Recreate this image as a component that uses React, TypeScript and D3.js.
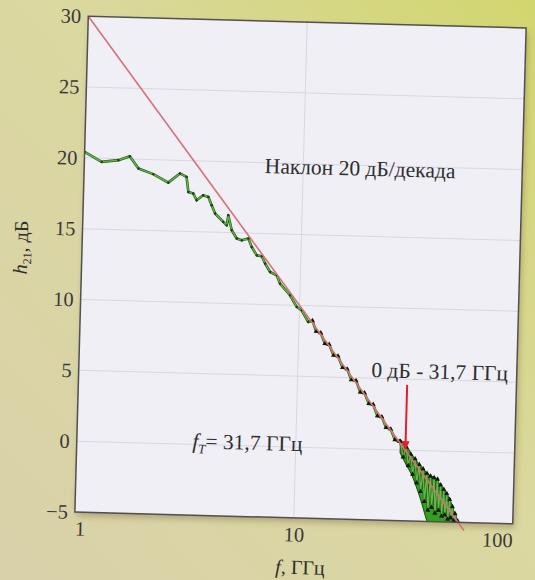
import React, { useRef, useEffect } from "react";
import * as d3 from "d3";

const lowFreq = [1.0, 1.2, 1.43, 1.61, 1.77, 2.07, 2.43, 2.74, 2.94, 3.01, 3.17, 3.29, 3.52, 3.72, 3.86, 4.01, 4.38, 4.55, 4.61, 4.8, 5.07, 5.35, 5.73, 5.95, 6.29, 6.63, 6.88, 7.27, 7.8, 8.09, 9.02, 9.71, 10.24, 11.0];
const lowDb = [20.42, 19.75, 19.9, 20.2, 19.35, 18.98, 18.41, 19.08, 18.85, 17.79, 17.69, 17.22, 17.59, 17.48, 16.9, 16.32, 15.75, 15.51, 16.23, 15.17, 14.6, 14.48, 14.62, 14.03, 13.45, 13.4, 12.89, 12.3, 12.08, 11.5, 10.7, 9.89, 9.66, 8.85];

const slopeFreq = [11.5, 12, 12.6, 13.2, 13.8, 14.5, 15.2, 16, 16.8, 17.6, 18.5, 19.4, 20.3, 21.3, 22.3, 23.4, 24.5, 25.7, 27, 28.3, 29.7];
const slopeDb = [8.95, 8.2, 8.1, 7.35, 7.3, 6.55, 6.5, 5.7, 5.6, 4.85, 4.8, 4.0, 3.95, 3.2, 3.15, 2.35, 2.3, 1.55, 1.45, 0.7, 0.6];

const noisyFreq = [30, 31, 32, 32.8, 33.6, 34.4, 35.2, 36, 36.8, 37.6, 38.4, 39.2, 40, 40.8, 41.6, 42.4, 43.2, 44, 44.8, 45.6, 46.4, 47.2, 48, 48.8, 49.6, 50.4, 51.2, 52, 52.8, 53.6, 54.4, 55.2, 56];
const noisyDb = [0.6, -0.5, 0.2, -1.1, -0.3, -1.7, -0.6, -2.3, -1.0, -2.9, -1.3, -3.6, -1.6, -4.2, -1.8, -4.0, -1.9, -4.4, -2.0, -4.2, -2.4, -4.6, -2.7, -4.5, -3.0, -4.8, -3.4, -4.7, -3.9, -4.9, -4.4, -5.0, -4.9];

const bandFreq = [30, 32, 34, 36, 38, 40, 42, 44, 46, 48, 50, 52, 54, 56, 57.5];
const bandUpper = [0.7, 0.3, -0.3, -0.8, -1.2, -1.6, -1.8, -1.95, -2.35, -2.7, -3.1, -3.6, -4.3, -4.9, -5.5];
const bandLower = [-0.2, -1.0, -1.7, -2.6, -3.6, -4.7, -5.5, -5.5, -5.5, -5.5, -5.5, -5.5, -5.5, -5.5, -5.5];

// 20 dB/decade asymptote
const fitFreq = [1, 60];
const fitDb = [30, -5.56];

const xTicks = [1, 10, 100];
const yTicks = [-5, 0, 5, 10, 15, 20, 25, 30];
const gridY = [0, 5, 10, 15, 20, 25];
const gridX = [10];

const fT = 31.7;
const arrowTopDb = 4.6;

const App = () => {
  const svgRef = useRef(null);

  useEffect(() => {
    const W = 535;
    const H = 580;
    const m = { left: 81.5, top: 22, width: 438, height: 496 };
    const cx = 300.5;
    const cy = 270;
    const serif = "'Liberation Serif', 'Times New Roman', serif";

    const svg = d3.select(svgRef.current).attr("width", W).attr("height", H);
    svg.selectAll("*").remove();

    const defs = svg.append("defs");
    const grad = defs
      .append("linearGradient")
      .attr("id", "bg")
      .attr("x1", "1")
      .attr("y1", "0")
      .attr("x2", "0")
      .attr("y2", "1");
    grad.append("stop").attr("offset", "0").attr("stop-color", "#d2d66e");
    grad.append("stop").attr("offset", "0.45").attr("stop-color", "#dbd8a0");
    grad.append("stop").attr("offset", "1").attr("stop-color", "#d9d1aa");

    const shadow = defs.append("filter").attr("id", "shadow").attr("x", "-5%").attr("y", "-5%").attr("width", "115%").attr("height", "115%");
    shadow
      .append("feDropShadow")
      .attr("dx", 2)
      .attr("dy", 4)
      .attr("stdDeviation", 3)
      .attr("flood-color", "#7a7040")
      .attr("flood-opacity", 0.45);

    defs
      .append("clipPath")
      .attr("id", "plotClip")
      .append("rect")
      .attr("width", m.width)
      .attr("height", m.height);

    svg.append("rect").attr("width", W).attr("height", H).attr("fill", "url(#bg)");

    const root = svg.append("g").attr("transform", `rotate(1.55,${cx},${cy})`);
    const g = root.append("g").attr("transform", `translate(${m.left},${m.top})`);

    const x = d3.scaleLog().domain([1, 100]).range([0, m.width]);
    const y = d3.scaleLinear().domain([-5, 30]).range([m.height, 0]);

    g.append("rect")
      .attr("width", m.width)
      .attr("height", m.height)
      .attr("fill", "#efeff5")
      .attr("filter", "url(#shadow)");

    // grid
    g.selectAll(".gy")
      .data(gridY)
      .enter()
      .append("line")
      .attr("x1", 0)
      .attr("x2", m.width)
      .attr("y1", (d) => y(d))
      .attr("y2", (d) => y(d))
      .attr("stroke", "#d8d8e0")
      .attr("stroke-width", 1);
    g.selectAll(".gx")
      .data(gridX)
      .enter()
      .append("line")
      .attr("x1", (d) => x(d))
      .attr("x2", (d) => x(d))
      .attr("y1", 0)
      .attr("y2", m.height)
      .attr("stroke", "#d8d8e0")
      .attr("stroke-width", 1);

    const plot = g.append("g").attr("clip-path", "url(#plotClip)");

    // noisy band fill
    const band = bandFreq.map((f, i) => ({ f, hi: bandUpper[i], lo: bandLower[i] }));
    plot
      .append("path")
      .datum(band)
      .attr("fill", "#32a01f")
      .attr("stroke", "#1f4d12")
      .attr("stroke-width", 1)
      .attr(
        "d",
        d3
          .area()
          .x((d) => x(d.f))
          .y0((d) => y(d.lo))
          .y1((d) => y(d.hi))
          .curve(d3.curveMonotoneX)
      );

    const curve = [
      ...lowFreq.map((f, i) => ({ f, v: lowDb[i] })),
      ...slopeFreq.map((f, i) => ({ f, v: slopeDb[i] })),
      ...noisyFreq.map((f, i) => ({ f, v: noisyDb[i] })),
    ];
    const line = d3
      .line()
      .x((d) => x(d.f))
      .y((d) => y(d.v));

    plot
      .append("path")
      .datum(curve)
      .attr("fill", "none")
      .attr("stroke", "#2a5c1a")
      .attr("stroke-width", 2.6)
      .attr("stroke-linejoin", "round")
      .attr("d", line);
    plot
      .append("path")
      .datum(curve)
      .attr("fill", "none")
      .attr("stroke", "#62b948")
      .attr("stroke-width", 1.3)
      .attr("stroke-linejoin", "round")
      .attr("d", line);

    // asymptote (allowed past the frame at the bottom)
    const fit = fitFreq.map((f, i) => ({ f, v: fitDb[i] }));
    g.append("path")
      .datum(fit)
      .attr("fill", "none")
      .attr("stroke", "#d8707a")
      .attr("stroke-width", 1.6)
      .attr("d", line);

    // markers
    plot
      .selectAll(".mlow")
      .data(lowFreq.map((f, i) => ({ f, v: lowDb[i] })))
      .enter()
      .append("circle")
      .attr("cx", (d) => x(d.f))
      .attr("cy", (d) => y(d.v))
      .attr("r", 1.2)
      .attr("fill", "#1a3a10");
    const tri = d3.symbol().type(d3.symbolTriangle).size(11);
    plot
      .selectAll(".mhi")
      .data([
        ...slopeFreq.map((f, i) => ({ f, v: slopeDb[i] })),
        ...noisyFreq.map((f, i) => ({ f, v: noisyDb[i] })),
      ])
      .enter()
      .append("path")
      .attr("d", tri)
      .attr("transform", (d) => `translate(${x(d.f)},${y(d.v)})`)
      .attr("fill", "#101a08");

    // frame
    g.append("rect")
      .attr("width", m.width)
      .attr("height", m.height)
      .attr("fill", "none")
      .attr("stroke", "#505050")
      .attr("stroke-width", 1.5);

    // axes
    const yAxis = g
      .append("g")
      .call(
        d3
          .axisLeft(y)
          .tickValues(yTicks)
          .tickSize(0)
          .tickPadding(7)
          .tickFormat((d) => (d < 0 ? "\u2212" + Math.abs(d) : String(d)))
      );
    yAxis.select(".domain").remove();
    yAxis.selectAll("text").attr("font-family", serif).attr("font-size", 20.5).attr("fill", "#3a3a3a");

    const xAxis = g
      .append("g")
      .attr("transform", `translate(0,${m.height})`)
      .call(
        d3
          .axisBottom(x)
          .tickValues(xTicks)
          .tickSize(0)
          .tickPadding(9)
          .tickFormat((d) => String(d))
      );
    xAxis.select(".domain").remove();
    xAxis
      .selectAll("text")
      .attr("font-family", serif)
      .attr("font-size", 20.5)
      .attr("fill", "#3a3a3a")
      .attr("text-anchor", (d, i) => (i === 0 ? "start" : i === xTicks.length - 1 ? "end" : "middle"));

    // fT arrow
    const ax = x(fT);
    g.append("line")
      .attr("x1", ax)
      .attr("x2", ax)
      .attr("y1", y(arrowTopDb))
      .attr("y2", y(0) - 6)
      .attr("stroke", "#e0202e")
      .attr("stroke-width", 2);
    g.append("path")
      .attr("d", `M${ax - 4},${y(0) - 9}L${ax + 4},${y(0) - 9}L${ax},${y(0)}Z`)
      .attr("fill", "#e0202e");

    // annotations (root coords)
    root
      .append("text")
      .attr("x", 262)
      .attr("y", 174)
      .attr("font-family", serif)
      .attr("font-size", 21.5)
      .attr("fill", "#2e2e2e")
      .text("Наклон 20 дБ/декада");

    root
      .append("text")
      .attr("x", 374)
      .attr("y", 375)
      .attr("font-family", serif)
      .attr("font-size", 21.5)
      .attr("fill", "#2e2e2e")
      .text("0 дБ - 31,7 ГГц");

    const ft = root
      .append("text")
      .attr("x", 197)
      .attr("y", 451)
      .attr("font-family", serif)
      .attr("font-size", 21.5)
      .attr("fill", "#2e2e2e");
    ft.append("tspan").attr("font-style", "italic").text("f");
    ft.append("tspan").attr("font-style", "italic").attr("font-size", 13).attr("dy", 5).text("T");
    ft.append("tspan").attr("dy", -5).text("= 31,7 ГГц");

    const yt = root
      .append("text")
      .attr("transform", "translate(27,255) rotate(-90)")
      .attr("text-anchor", "middle")
      .attr("font-family", serif)
      .attr("font-size", 20)
      .attr("fill", "#2e2e2e");
    yt.append("tspan").attr("font-style", "italic").text("h");
    yt.append("tspan").attr("font-size", 12).attr("dy", 4).text("21");
    yt.append("tspan").attr("dy", -4).text(", дБ");

    const xt = root
      .append("text")
      .attr("x", 308)
      .attr("y", 574)
      .attr("text-anchor", "middle")
      .attr("font-family", serif)
      .attr("font-size", 20)
      .attr("fill", "#2e2e2e");
    xt.append("tspan").attr("font-style", "italic").text("f");
    xt.append("tspan").text(",  ГГц");

    return () => {
      svg.selectAll("*").remove();
    };
  }, []);

  return (
    <svg
      ref={svgRef}
      style={{ position: "absolute", left: 0, top: 0, display: "block" }}
    ></svg>
  );
};

export default App;
